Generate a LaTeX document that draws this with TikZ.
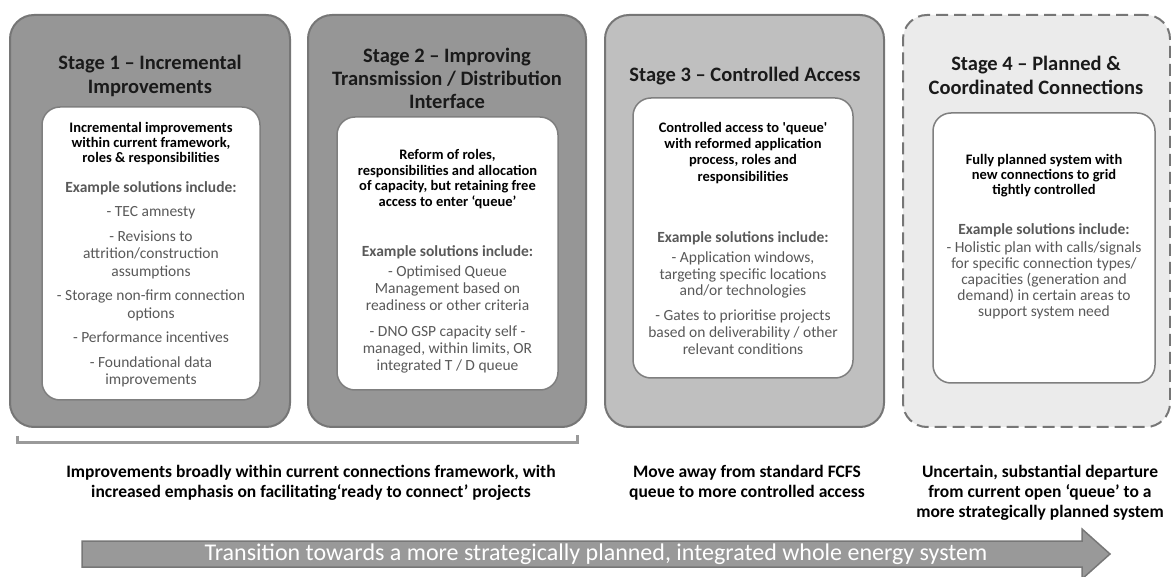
\documentclass[tikz,border=0pt]{standalone}
\usepackage{fontspec}
\setmainfont{Carlito}
\definecolor{edgegray}{HTML}{767676}
\definecolor{darkfill}{HTML}{969696}
\definecolor{midfill}{HTML}{BFBFBF}
\definecolor{lightfill}{HTML}{EBEBEB}
\definecolor{innergray}{HTML}{7F7F7F}
\definecolor{titleblack}{HTML}{1A1A1A}
\definecolor{bodygray}{HTML}{595959}
\definecolor{bracketgray}{HTML}{9A9A9A}
\definecolor{arrowfill}{HTML}{999999}
\definecolor{arrowedge}{HTML}{777777}
\begin{document}
\begin{tikzpicture}[x=1pt,y=-1pt,
  stagebox/.style={rectangle, rounded corners=24pt, line width=2pt, draw=edgegray, inner sep=0pt},
  innerbox/.style={rectangle, rounded corners=18pt, line width=1.5pt, draw=innergray, fill=white, inner sep=0pt},
  title/.style={font=\fontsize{20.5}{23.5}\selectfont\bfseries, text=titleblack, align=center, anchor=north, inner sep=0pt},
  lead/.style={font=\fontsize{14.5}{15.7}\selectfont\bfseries, text=black, align=center, anchor=north, inner sep=0pt},
  body/.style={font=\fontsize{15.5}{16.8}\selectfont, text=bodygray, align=center, anchor=north, inner sep=0pt},
  caption/.style={font=\fontsize{17.5}{20}\selectfont\bfseries, text=black, align=center, anchor=north, inner sep=0pt},
]
\useasboundingbox (0,0) rectangle (1171,577);

% outer stage panels
\node[stagebox, fill=darkfill, minimum width=280pt, minimum height=412pt] (s1) at (150,221) {};
\node[stagebox, fill=darkfill, minimum width=278pt, minimum height=412pt] (s2) at (447,221) {};
\node[stagebox, fill=midfill, minimum width=279pt, minimum height=412pt] (s3) at (744.5,221) {};
\node[stagebox, fill=lightfill, dash pattern=on 12pt off 6pt, minimum width=267pt, minimum height=412pt] (s4) at (1036.5,221) {};

% inner white cards
\node[innerbox, minimum width=218pt, minimum height=293pt] (c1) at (151,253.5) {};
\node[innerbox, minimum width=221pt, minimum height=273pt] (c2) at (447.5,253.5) {};
\node[innerbox, minimum width=220pt, minimum height=280pt] (c3) at (743,238) {};
\node[innerbox, minimum width=222pt, minimum height=270pt] (c4) at (1044,248) {};

% stage titles
\node[title, font=\fontsize{20.5}{24}\selectfont\bfseries] (t1) at (150,55) {Stage 1 -- Incremental\\Improvements};
\node[title, font=\fontsize{20.5}{22.8}\selectfont\bfseries] (t2) at (447,48) {Stage 2 -- Improving\\Transmission / Distribution\\Interface};
\node[title] (t3) at (745,66.5) {Stage 3 -- Controlled Access};
\node[title, font=\fontsize{20.5}{24}\selectfont\bfseries] (t4) at (1036,55.5) {Stage 4 -- Planned \&\\Coordinated Connections};

% stage 1 card
\node[lead, font=\fontsize{14.5}{14.8}\selectfont\bfseries] (l1) at (151,122.2) {Incremental improvements\\within current framework,\\roles \& responsibilities};
\node[body, font=\fontsize{15.5}{17.5}\selectfont] (b1) at (151,181) {\textbf{Example solutions include:}\\[7pt]
  - TEC amnesty\\[7pt]
  - Revisions to\\attrition/construction\\assumptions\\[7pt]
  - Storage non-firm connection\\options\\[7pt]
  - Performance incentives\\[7pt]
  - Foundational data\\improvements};

% stage 2 card
\node[lead] (l2) at (447.5,149) {Reform of roles,\\responsibilities and allocation\\of capacity, but retaining free\\access to enter `queue'};
\node[body, font=\fontsize{15.5}{17}\selectfont] (b2) at (447.5,245.5) {\textbf{Example solutions include:}\\[3pt]
  - Optimised Queue\\Management based on\\readiness or other criteria\\[9pt]
  - DNO GSP capacity self -\\managed, within limits, OR\\integrated T / D queue};

% stage 3 card
\node[lead, font=\fontsize{14.5}{16.3}\selectfont\bfseries] (l3) at (743,122) {Controlled access to \textquotesingle queue\textquotesingle\\with reformed application\\process, roles and\\responsibilities};
\node[body] (b3) at (743,231.5) {\textbf{Example solutions include:}\\[3pt]
  - Application windows,\\targeting specific locations\\and/or technologies\\[8pt]
  - Gates to prioritise projects\\based on deliverability / other\\relevant conditions};

% stage 4 card
\node[lead, font=\fontsize{14.5}{15}\selectfont\bfseries] (l4) at (1044,154) {Fully planned system with\\new connections to grid\\tightly controlled};
\node[body, font=\fontsize{15.5}{16}\selectfont] (b4) at (1044,223.5) {\textbf{Example solutions include:}\\[2pt]
  - Holistic plan with calls/signals\\for specific connection types/\\capacities (generation and\\demand) in certain areas to\\support system need};

% bracket grouping stages 1 and 2
\coordinate (bl) at (17,436);
\coordinate (br) at (577,435);
\draw[bracketgray, line width=3pt] (bl) -- (17,443) -- (577,443) -- (br);

% captions
\node[caption] (cap1) at (311,465) {Improvements broadly within current connections framework, with\\increased emphasis on facilitating`ready to connect' projects};
\node[caption] (cap2) at (747,465) {Move away from standard FCFS\\queue to more controlled access};
\node[caption] (cap3) at (1040,465) {Uncertain, substantial departure\\from current open `queue' to a\\more strategically planned system};

% transition arrow
\draw[fill=arrowfill, draw=arrowedge, line width=1.5pt]
  (82,541) -- (1082,541) -- (1082,529) -- (1110,554) -- (1082,579) -- (1082,567) -- (82,567) -- cycle;
\node[font=\fontsize{24}{28}\selectfont, text=white, inner sep=0pt] (arrowtext) at (596,554) {Transition towards a more strategically planned, integrated whole energy system};
\end{tikzpicture}
\end{document}
